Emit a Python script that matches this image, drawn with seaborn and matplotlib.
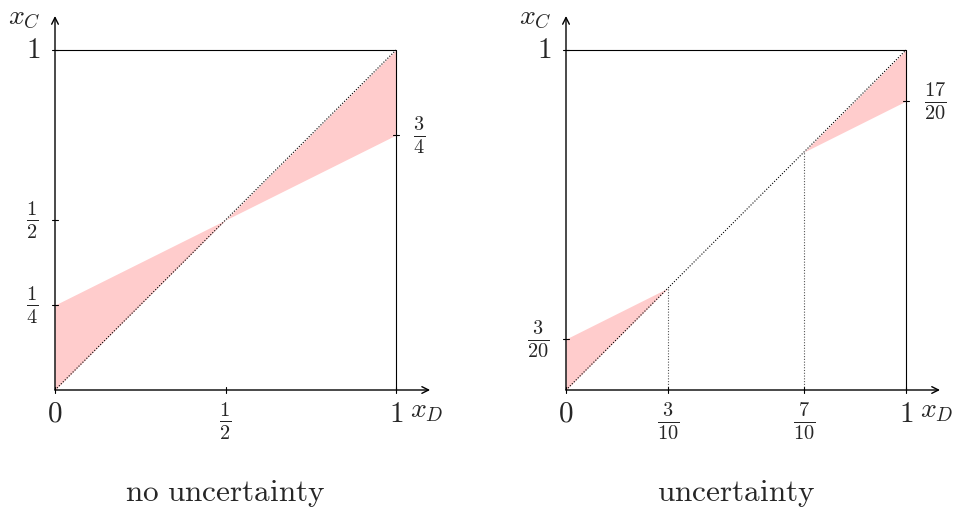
import matplotlib
matplotlib.use("Agg")
import matplotlib.pyplot as plt
import seaborn as sns
import numpy as np
import pandas as pd

# ---- data ----
diag_x = [0.0, 1.0]
diag_y = [0.0, 1.0]

# left panel: no uncertainty
left_x = [0.0, 1.0]
left_line = [0.25, 0.75]
left_xticks = [0.5]
left_xticklabels = [r"$\frac{1}{2}$"]
left_yticks = [0.25, 0.5]
left_yticklabels = [r"$\frac{1}{4}$", r"$\frac{1}{2}$"]
left_right_label = (0.75, r"$\frac{3}{4}$")

# right panel: uncertainty
right_seg1_x = [0.0, 0.3]
right_seg1_line = [0.15, 0.3]
right_seg2_x = [0.7, 1.0]
right_seg2_line = [0.7, 0.85]
right_xticks = [0.3, 0.7]
right_xticklabels = [r"$\frac{3}{10}$", r"$\frac{7}{10}$"]
right_yticks = [0.15]
right_yticklabels = [r"$\frac{3}{20}$"]
right_right_label = (0.85, r"$\frac{17}{20}$")
right_vlines = [0.3, 0.7]

captions = ["no uncertainty", "uncertainty"]

sns.set_theme(style="white")
plt.rcParams["mathtext.fontset"] = "cm"
plt.rcParams["font.family"] = ["DejaVu Sans"]

W, H = 960, 511
fig = plt.figure(figsize=(W / 100, H / 100), dpi=100)

PINK = "#ffcccc"
XL = (-0.15, 1.2)
YL = (-0.33, 1.15)
FRAC = 21


def make_axes(x0_px, scale_x, y0_px, scale_y):
    left = x0_px + XL[0] * scale_x
    width = (XL[1] - XL[0]) * scale_x
    bottom_px = y0_px - YL[0] * scale_y  # from top
    height = (YL[1] - YL[0]) * scale_y
    ax = fig.add_axes([left / W, (H - bottom_px) / H, width / W, height / H])
    ax.set_xlim(*XL)
    ax.set_ylim(*YL)
    ax.set_axis_off()
    return ax


def frame(ax):
    # box
    ax.plot([0, 1], [1, 1], color="black", lw=0.8)
    ax.plot([1, 1], [0, 1], color="black", lw=0.8)
    # axes with arrows
    ax.annotate("", xy=(1.1, 0), xytext=(0, 0),
                arrowprops=dict(arrowstyle="->", lw=1.0, color="black",
                                shrinkA=0, shrinkB=0))
    ax.annotate("", xy=(0, 1.1), xytext=(0, 0),
                arrowprops=dict(arrowstyle="->", lw=1.0, color="black",
                                shrinkA=0, shrinkB=0))
    # big labels
    ax.text(0, -0.07, r"$0$", fontsize=21, ha="center", va="center")
    ax.text(1, -0.07, r"$1$", fontsize=21, ha="center", va="center")
    ax.text(-0.065, 1.0, r"$1$", fontsize=21, ha="center", va="center")
    ax.text(1.09, -0.06, r"$x_D$", fontsize=20, ha="center", va="center")
    ax.text(-0.09, 1.097, r"$x_C$", fontsize=20, ha="center", va="center")
    # ticks at 0/1
    for v in [0, 1]:
        ax.plot([v, v], [-0.008, 0.008], color="black", lw=0.8)
    ax.plot([-0.008, 0.008], [1, 1], color="black", lw=0.8)


def ticks(ax, xt, xtl, yt, ytl, rl, ylab_x, rlab_x):
    for v, lab in zip(xt, xtl):
        ax.plot([v, v], [-0.008, 0.008], color="black", lw=0.8)
        ax.text(v, -0.092, lab, fontsize=FRAC, ha="center", va="center")
    for v, lab in zip(yt, ytl):
        ax.plot([-0.008, 0.008], [v, v], color="black", lw=0.8)
        ax.text(ylab_x, v, lab, fontsize=FRAC, ha="center", va="center")
    v, lab = rl
    ax.plot([0.992, 1.008], [v, v], color="black", lw=0.8)
    ax.text(rlab_x, v, lab, fontsize=FRAC, ha="center", va="center")


# ---- left panel ----
axL = make_axes(55, 341, 390, 340)
axL.fill_between(left_x, diag_y, left_line, color=PINK, lw=0)
sns.lineplot(x=diag_x, y=diag_y, ax=axL, color="black", lw=0.8,
             linestyle=(0, (1, 1.5)))
frame(axL)
ticks(axL, left_xticks, left_xticklabels, left_yticks, left_yticklabels,
      left_right_label, -0.068, 1.067)
axL.text(0.5, -0.305, r"$\mathrm{" + captions[0].replace(" ", r"\ ") + "}$",
         fontsize=22.5, ha="center", va="center")

# ---- right panel ----
axR = make_axes(566, 340, 390, 340)
axR.fill_between(right_seg1_x, right_seg1_x, right_seg1_line, color=PINK, lw=0)
axR.fill_between(right_seg2_x, right_seg2_x, right_seg2_line, color=PINK, lw=0)
sns.lineplot(x=diag_x, y=diag_y, ax=axR, color="black", lw=0.8,
             linestyle=(0, (1, 1.5)))
for v in right_vlines:
    axR.plot([v, v], [0, v], color="#555555", lw=0.8, linestyle=(0, (1, 1.5)))
frame(axR)
ticks(axR, right_xticks, right_xticklabels, right_yticks, right_yticklabels,
      right_right_label, -0.082, 1.085)
axR.text(0.5, -0.305, r"$\mathrm{" + captions[1].replace(" ", r"\ ") + "}$",
         fontsize=22.5, ha="center", va="center")

fig.savefig("out.png", dpi=100)
